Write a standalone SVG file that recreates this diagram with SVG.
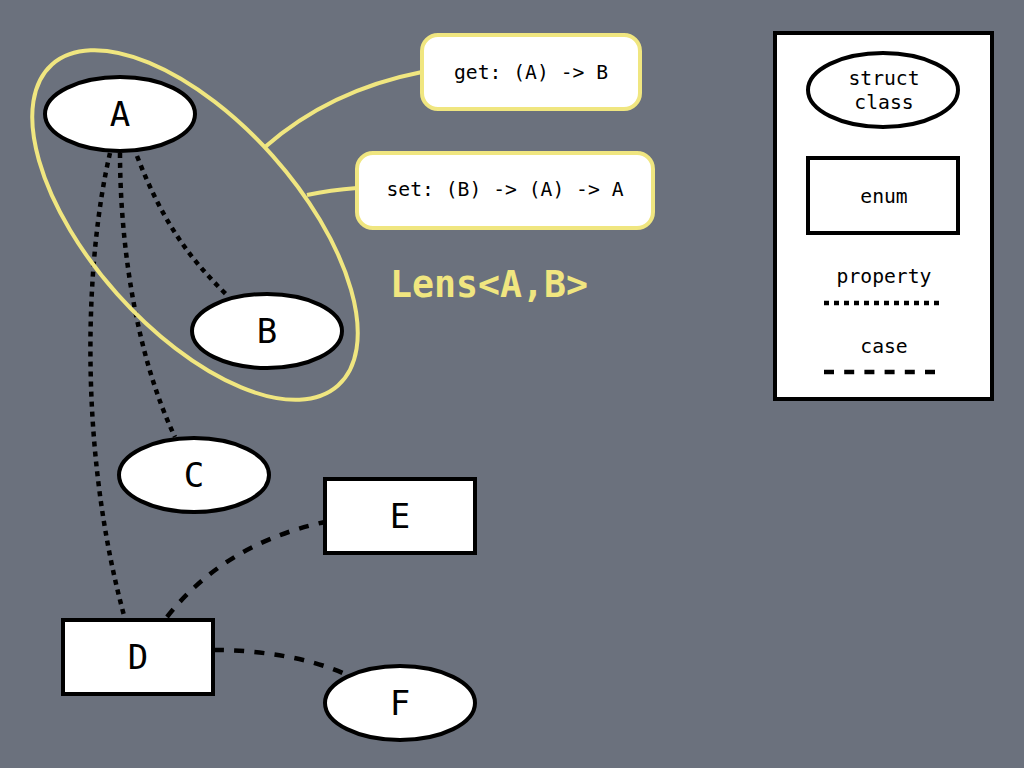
<svg xmlns="http://www.w3.org/2000/svg" width="1024" height="768" viewBox="0 0 1024 768">
<style>
text{font-family:"DejaVu Sans Mono","Liberation Mono",monospace;text-anchor:middle;fill:#000}
.n{fill:#fff;stroke:#000;stroke-width:4}
.lbl{font-size:34px}
.sm{font-size:19.7px}
.y{fill:none;stroke:#f0e680;stroke-width:4}
.yb{fill:#fff;stroke:#f0e680;stroke-width:4}
.dot{fill:none;stroke:#000;stroke-width:4.5;stroke-dasharray:5,5}
.dash{fill:none;stroke:#000;stroke-width:4.5;stroke-dasharray:10,10.2}
</style>
<rect width="1024" height="768" fill="#6b717d"/>
<g id="connectors">
<path class="dot" d="M137,156 C160,215 185,255 228,296"/>
<path class="dot" d="M120,153 C120,250 138,360 175,437"/>
<path class="dot" d="M110,153 C85,260 78,450 125,619"/>
<path class="dash" d="M167,617 C200,575 250,538 325,522"/>
<path class="dash" d="M214,650 C260,650 310,658 345,674"/>
<path class="y" d="M265,147 Q330,90 422,72"/>
<path class="y" d="M307,195 Q330,190 357,188"/>
</g>
<g id="lens">
<ellipse class="y" cx="195" cy="225" rx="215" ry="104" transform="rotate(48.3 195 225)"/>
<text x="489" y="297" style="font-size:36.5px;font-weight:bold;fill:#f0e680">Lens&lt;A,B&gt;</text>
</g>
<g id="get"><rect class="yb" x="422" y="35" width="218" height="74" rx="16"/><text class="sm" x="531" y="79">get: (A) -&gt; B</text></g>
<g id="set"><rect class="yb" x="357" y="153" width="296" height="75" rx="16"/><text class="sm" x="505" y="196">set: (B) -&gt; (A) -&gt; A</text></g>
<g id="A"><ellipse class="n" cx="120" cy="114" rx="75" ry="37"/><text class="lbl" x="120" y="126">A</text></g>
<g id="B"><ellipse class="n" cx="267" cy="331" rx="75" ry="37"/><text class="lbl" x="267" y="343">B</text></g>
<g id="C"><ellipse class="n" cx="194" cy="475" rx="75" ry="37"/><text class="lbl" x="194" y="487">C</text></g>
<g id="D"><rect class="n" x="63" y="620" width="150" height="74"/><text class="lbl" x="138" y="669">D</text></g>
<g id="E"><rect class="n" x="325" y="479" width="150" height="74"/><text class="lbl" x="400" y="528">E</text></g>
<g id="F"><ellipse class="n" cx="400" cy="703" rx="75" ry="37"/><text class="lbl" x="400" y="715">F</text></g>
<g id="legend">
<rect class="n" x="775" y="33" width="217" height="366"/>
<ellipse class="n" cx="883" cy="90" rx="75" ry="37"/>
<text class="sm" x="884" y="85">struct</text>
<text class="sm" x="884" y="109">class</text>
<rect class="n" x="808" y="158" width="150" height="75"/>
<text class="sm" x="884" y="203">enum</text>
<text class="sm" x="884" y="283">property</text>
<path class="dot" d="M824,303 H940"/>
<text class="sm" x="884" y="353">case</text>
<path class="dash" d="M824,372 H935"/>
</g>
</svg>
